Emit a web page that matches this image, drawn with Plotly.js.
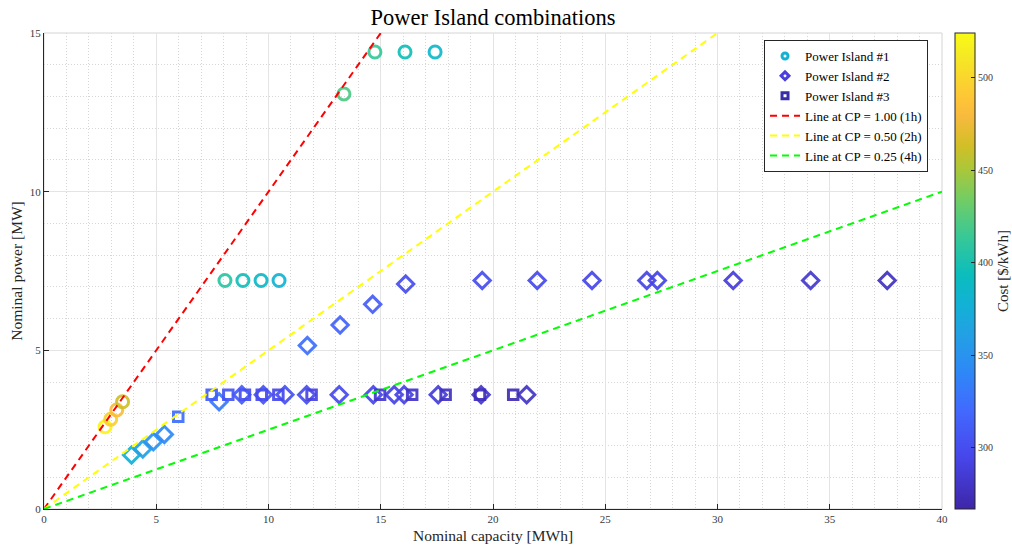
<!DOCTYPE html>
<html>
<head>
<meta charset="utf-8">
<script src="https://cdn.plot.ly/plotly-3.0.1.min.js"></script>
<style>
html,body{margin:0;padding:0;background:#fff;}
#chart{width:1012px;height:548px;}
</style>
</head>
<body>
<div id="chart"></div>
<script>
// ---- Data ----
const pi1Cap  = [2.72, 2.97, 3.24, 3.50, 8.06, 8.86, 9.67, 10.47, 13.36, 14.74, 16.08, 17.42];
const pi1Pow  = [2.59, 2.83, 3.12, 3.38, 7.2, 7.2, 7.2, 7.2, 13.08, 14.4, 14.4, 14.4];
const pi1Cost = [520, 495, 482, 462, 408, 396, 388, 380, 421, 413, 396, 385];

const pi2Cap  = [3.90, 4.40, 4.87, 5.36, 7.80, 8.81, 9.77, 10.73, 11.70, 13.15, 14.67, 15.60, 16.04, 17.56, 19.47, 21.50,
                 11.73, 13.19, 14.64, 16.11, 19.52, 21.97, 24.41, 26.85, 27.32, 30.70, 34.15, 37.56];
const pi2Pow  = [1.70, 1.89, 2.12, 2.35, 3.38, 3.6, 3.6, 3.6, 3.6, 3.6, 3.6, 3.6, 3.6, 3.6, 3.6, 3.6,
                 5.15, 5.80, 6.45, 7.09, 7.2, 7.2, 7.2, 7.2, 7.2, 7.2, 7.2, 7.2];
const pi2Cost = [377, 362, 349, 342, 331, 311, 306, 303, 300, 298, 295, 293, 292, 288, 283, 280,
                 324, 316, 311, 300, 300, 298, 295, 293, 293, 288, 283, 277];

const pi3Cap  = [5.98, 7.47, 8.21, 8.95, 9.70, 10.44, 11.92, 14.97, 16.40, 17.89, 19.42, 20.90];
const pi3Pow  = [2.91, 3.6, 3.6, 3.6, 3.6, 3.6, 3.6, 3.6, 3.6, 3.6, 3.6, 3.6];
const pi3Cost = [324, 311, 306, 301, 298, 296, 291, 283, 280, 277, 275, 272];

// Constant-CP reference lines (capacity end points and power end points)
const lineCap   = [0, 40];
const lineCP1   = [0, 40];
const lineCP05  = [0, 20];
const lineCP025 = [0, 10];
const lineNames = ['Line at CP = 1.00 (1h)', 'Line at CP = 0.50 (2h)', 'Line at CP = 0.25 (4h)'];
const seriesNames = ['Power Island #1', 'Power Island #2', 'Power Island #3'];

const costMin = 267, costMax = 524;
const xTicks = [0, 5, 10, 15, 20, 25, 30, 35, 40];
const yTicks = [0, 5, 10, 15];
const cbTicks = [300, 350, 400, 450, 500];

// parula colormap (MATLAB)
const parulaRGB = [
 [0.2422,0.1504,0.6603],[0.2803,0.2782,0.9221],[0.2602,0.4123,0.9952],[0.1786,0.5289,0.9682],
 [0.1380,0.6276,0.8973],[0.0689,0.6948,0.8394],[0.0433,0.7411,0.7394],[0.2161,0.7843,0.5923],
 [0.4456,0.8024,0.3909],[0.6720,0.7793,0.2227],[0.8203,0.7498,0.1535],[0.9728,0.7298,0.2394],
 [0.9970,0.7659,0.2199],[0.9786,0.8386,0.1766],[0.9597,0.9135,0.1423],[0.9769,0.9839,0.0805]];
const parulaIdx = [1,8,14,19,24,28,32,37,42,46,49,53,55,58,61,64];
const parula = parulaRGB.map((c,i)=>[(parulaIdx[i]-1)/63,
  'rgb('+Math.round(c[0]*255)+','+Math.round(c[1]*255)+','+Math.round(c[2]*255)+')']);

const FONT = 'Liberation Serif, DejaVu Serif, serif';

function markerTrace(x, y, c, symbol, size){
  return {x:x, y:y, type:'scatter', mode:'markers', showlegend:false, hoverinfo:'skip',
    marker:{symbol:symbol, size:size, color:c, coloraxis:'coloraxis', opacity:0.92,
            line:{width:3}}};
}
function legendMarker(name, symbol, color, size){
  return {x:[null], y:[null], type:'scatter', mode:'markers', name:name, showlegend:true,
    marker:{symbol:symbol, size:size, color:color, line:{width:3, color:color}}};
}
function lineTrace(name, y, color){
  return {x:lineCap, y:y, type:'scatter', mode:'lines', name:name, hoverinfo:'skip',
    line:{color:color, width:2, dash:'7px,5px'}};
}

const traces = [
  markerTrace(pi1Cap, pi1Pow, pi1Cost, 'circle-open', 12),
  markerTrace(pi2Cap, pi2Pow, pi2Cost, 'diamond-open', 12.5),
  markerTrace(pi3Cap, pi3Pow, pi3Cost, 'square-open', 9.5),
  legendMarker(seriesNames[0], 'circle-open', '#14b2d2', 6),
  legendMarker(seriesNames[1], 'diamond-open', '#4a40dc', 6),
  legendMarker(seriesNames[2], 'square-open', '#3a2ea8', 6),
  lineTrace(lineNames[0], lineCP1, '#ff0000'),
  lineTrace(lineNames[1], lineCP05, '#ffff00'),
  lineTrace(lineNames[2], lineCP025, '#00ff00')
];

const axisCommon = {
  showline:true, linecolor:'#262626', linewidth:1,
  ticks:'inside', ticklen:5, tickwidth:1, tickcolor:'#262626',
  showgrid:true, gridcolor:'#e4e4e4', gridwidth:1,
  zeroline:false, tickfont:{family:FONT, size:11, color:'#3a3a3a'},
  minor:{dtick:1, showgrid:true, gridcolor:'#d6d6d6', griddash:'1px,2px', gridwidth:1, ticks:''}
};

const layout = {
  width:1012, height:548,
  margin:{l:44, r:70, t:33, b:39, autoexpand:false},
  paper_bgcolor:'#ffffff', plot_bgcolor:'#ffffff',
  font:{family:FONT, color:'#262626'},
  title:{text:'Power Island combinations', x:0.4872, xanchor:'center', y:0.968, yanchor:'middle',
         font:{family:FONT, size:22.5, color:'#000000'}},
  xaxis:Object.assign({}, axisCommon, {range:[0,40], tickvals:xTicks, ticktext:xTicks.map(String),
    title:{text:'Nominal capacity [MWh]', standoff:5, font:{family:FONT, size:15.5, color:'#262626'}}}),
  yaxis:Object.assign({}, axisCommon, {range:[0,15], tickvals:yTicks, ticktext:yTicks.map(String),
    title:{text:'Nominal power [MW]', standoff:3, font:{family:FONT, size:15.5, color:'#262626'}}}),
  coloraxis:{colorscale:parula, cmin:costMin, cmax:costMax, showscale:true,
    colorbar:{x:1.0145, xanchor:'left', xpad:0, y:0.5, yanchor:'middle', ypad:0, len:1, lenmode:'fraction',
      thickness:20, outlinecolor:'#262626', outlinewidth:1,
      ticks:'inside', ticklen:4, tickcolor:'#262626', tickvals:cbTicks,
      tickfont:{family:FONT, size:10, color:'#3a3a3a'},
      title:{text:'Cost [$/kWh]', side:'right', font:{family:FONT, size:15, color:'#262626'}}}},
  legend:{x:0.8018, y:0.9853, xanchor:'left', yanchor:'top', bgcolor:'#ffffff',
    bordercolor:'#262626', borderwidth:1, font:{family:FONT, size:13, color:'#000000'},
    tracegroupgap:0, itemwidth:30},
  shapes:[{type:'rect', xref:'paper', yref:'paper', x0:0, x1:1, y0:0, y1:1,
    line:{color:'#d4d4d4', width:1}, layer:'below'}]
};

Plotly.newPlot('chart', traces, layout, {staticPlot:true, displayModeBar:false});
</script>
</body>
</html>
